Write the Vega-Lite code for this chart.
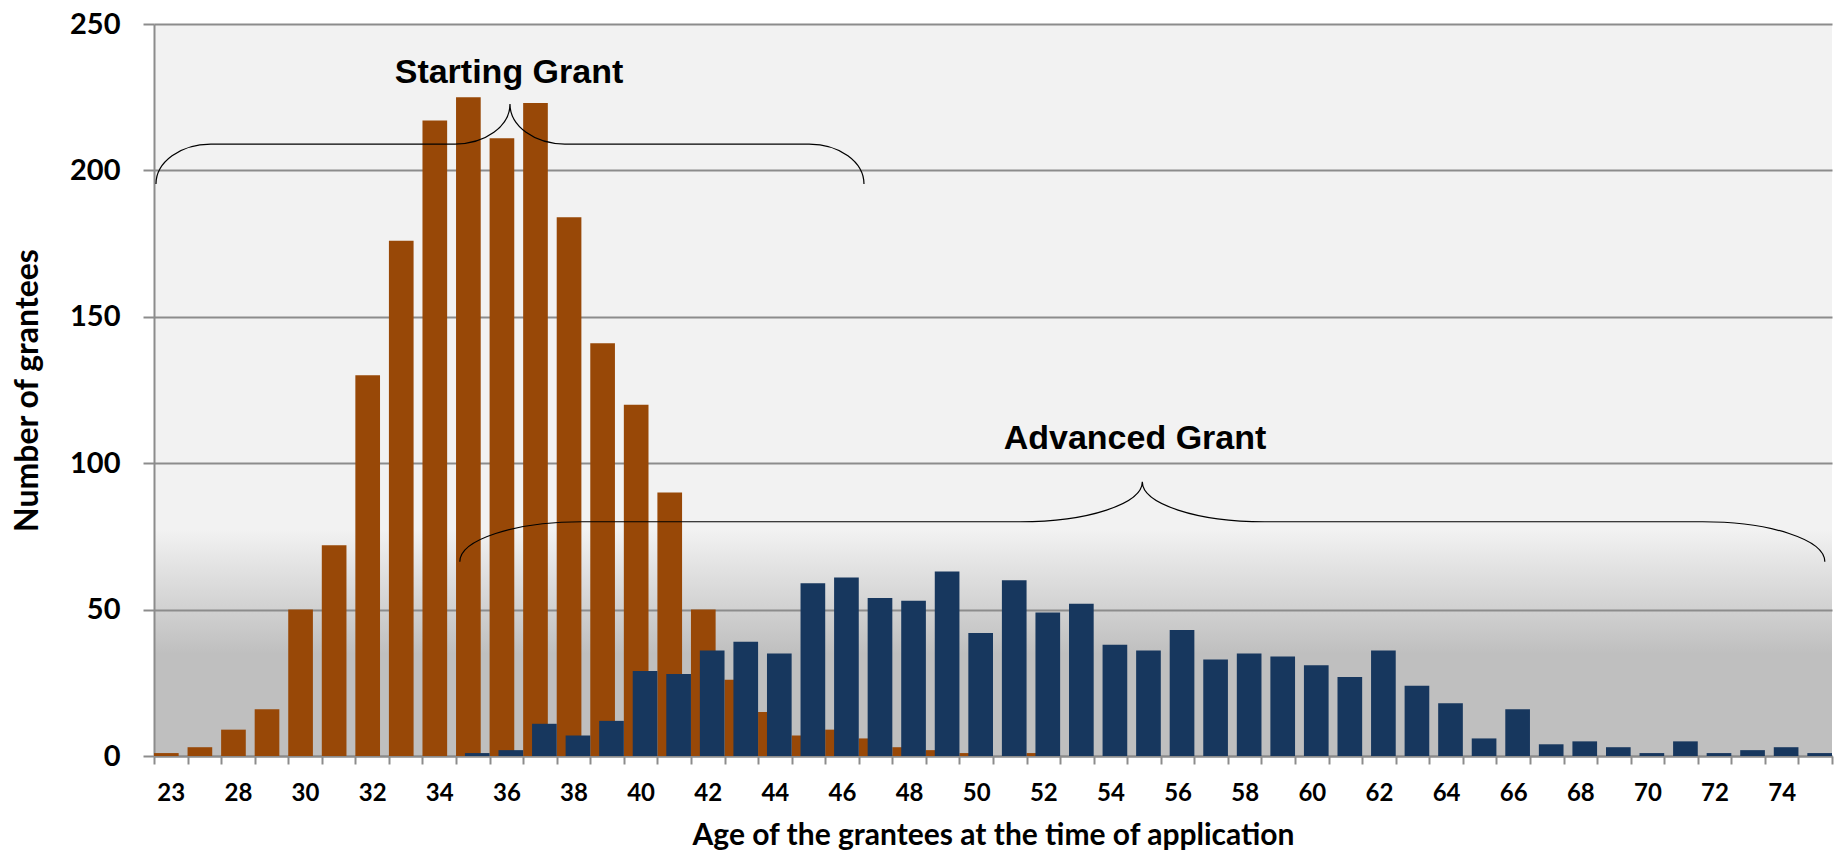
{
  "$schema": "https://vega.github.io/schema/vega-lite/v6.json",
  "width": 1678,
  "height": 732,
  "autosize": {"type": "none"},
  "padding": {"left": 154, "top": 24, "right": 5, "bottom": 103},
  "background": "white",
  "datasets": {
    "grantees": [
      {"age": 23, "grant": "Starting Grant", "count": 1},
      {"age": 27, "grant": "Starting Grant", "count": 3},
      {"age": 28, "grant": "Starting Grant", "count": 9},
      {"age": 29, "grant": "Starting Grant", "count": 16},
      {"age": 30, "grant": "Starting Grant", "count": 50},
      {"age": 31, "grant": "Starting Grant", "count": 72},
      {"age": 32, "grant": "Starting Grant", "count": 130},
      {"age": 33, "grant": "Starting Grant", "count": 176},
      {"age": 34, "grant": "Starting Grant", "count": 217},
      {"age": 35, "grant": "Starting Grant", "count": 225},
      {"age": 36, "grant": "Starting Grant", "count": 211},
      {"age": 37, "grant": "Starting Grant", "count": 223},
      {"age": 38, "grant": "Starting Grant", "count": 184},
      {"age": 39, "grant": "Starting Grant", "count": 141},
      {"age": 40, "grant": "Starting Grant", "count": 120},
      {"age": 41, "grant": "Starting Grant", "count": 90},
      {"age": 42, "grant": "Starting Grant", "count": 50},
      {"age": 43, "grant": "Starting Grant", "count": 26},
      {"age": 44, "grant": "Starting Grant", "count": 15},
      {"age": 45, "grant": "Starting Grant", "count": 7},
      {"age": 46, "grant": "Starting Grant", "count": 9},
      {"age": 47, "grant": "Starting Grant", "count": 6},
      {"age": 48, "grant": "Starting Grant", "count": 3},
      {"age": 49, "grant": "Starting Grant", "count": 2},
      {"age": 50, "grant": "Starting Grant", "count": 1},
      {"age": 52, "grant": "Starting Grant", "count": 1},
      {"age": 35, "grant": "Advanced Grant", "count": 1},
      {"age": 36, "grant": "Advanced Grant", "count": 2},
      {"age": 37, "grant": "Advanced Grant", "count": 11},
      {"age": 38, "grant": "Advanced Grant", "count": 7},
      {"age": 39, "grant": "Advanced Grant", "count": 12},
      {"age": 40, "grant": "Advanced Grant", "count": 29},
      {"age": 41, "grant": "Advanced Grant", "count": 28},
      {"age": 42, "grant": "Advanced Grant", "count": 36},
      {"age": 43, "grant": "Advanced Grant", "count": 39},
      {"age": 44, "grant": "Advanced Grant", "count": 35},
      {"age": 45, "grant": "Advanced Grant", "count": 59},
      {"age": 46, "grant": "Advanced Grant", "count": 61},
      {"age": 47, "grant": "Advanced Grant", "count": 54},
      {"age": 48, "grant": "Advanced Grant", "count": 53},
      {"age": 49, "grant": "Advanced Grant", "count": 63},
      {"age": 50, "grant": "Advanced Grant", "count": 42},
      {"age": 51, "grant": "Advanced Grant", "count": 60},
      {"age": 52, "grant": "Advanced Grant", "count": 49},
      {"age": 53, "grant": "Advanced Grant", "count": 52},
      {"age": 54, "grant": "Advanced Grant", "count": 38},
      {"age": 55, "grant": "Advanced Grant", "count": 36},
      {"age": 56, "grant": "Advanced Grant", "count": 43},
      {"age": 57, "grant": "Advanced Grant", "count": 33},
      {"age": 58, "grant": "Advanced Grant", "count": 35},
      {"age": 59, "grant": "Advanced Grant", "count": 34},
      {"age": 60, "grant": "Advanced Grant", "count": 31},
      {"age": 61, "grant": "Advanced Grant", "count": 27},
      {"age": 62, "grant": "Advanced Grant", "count": 36},
      {"age": 63, "grant": "Advanced Grant", "count": 24},
      {"age": 64, "grant": "Advanced Grant", "count": 18},
      {"age": 65, "grant": "Advanced Grant", "count": 6},
      {"age": 66, "grant": "Advanced Grant", "count": 16},
      {"age": 67, "grant": "Advanced Grant", "count": 4},
      {"age": 68, "grant": "Advanced Grant", "count": 5},
      {"age": 69, "grant": "Advanced Grant", "count": 3},
      {"age": 70, "grant": "Advanced Grant", "count": 1},
      {"age": 71, "grant": "Advanced Grant", "count": 5},
      {"age": 72, "grant": "Advanced Grant", "count": 1},
      {"age": 73, "grant": "Advanced Grant", "count": 2},
      {"age": 74, "grant": "Advanced Grant", "count": 3},
      {"age": 75, "grant": "Advanced Grant", "count": 1}
    ],
    "annotations": [
      {"grant": "Starting Grant", "age": 36, "count": 230, "part": "label"},
      {"grant": "Starting Grant", "age": 36, "count": 209, "part": "brace"},
      {"grant": "Advanced Grant", "age": 55, "count": 105, "part": "label"},
      {"grant": "Advanced Grant", "age": 55, "count": 80, "part": "brace"}
    ]
  },
  "encoding": {
    "x": {
      "field": "age",
      "type": "ordinal",
      "scale": {"type": "band", "paddingInner": 0, "paddingOuter": 0},
      "axis": {
        "title": "Age of the grantees at the time of application",
        "tickBand": "extent",
        "tickSize": 8,
        "labelPadding": 17,
        "labelFontSize": 24,
        "labelAngle": 0,
        "labelOverlap": false,
        "labelExpr": "datum.value == 23 || (datum.value >= 28 && datum.value % 2 == 0) ? datum.label : ''",
        "titleFontSize": 30,
        "titlePadding": 15,
        "grid": false
      }
    },
    "y": {
      "field": "count",
      "type": "quantitative",
      "scale": {"domain": [0, 250], "nice": false},
      "axis": {
        "title": "Number of grantees",
        "values": [0, 50, 100, 150, 200, 250],
        "tickSize": 11,
        "labelPadding": 23,
        "labelFontSize": 29,
        "titleFontSize": 32,
        "titlePadding": 25,
        "grid": true
      }
    }
  },
  "layer": [
    {
      "data": {"name": "grantees"},
      "transform": [{"filter": "datum.grant == 'Starting Grant'"}],
      "mark": {"type": "bar", "color": "#984807", "width": {"band": 0.735}, "xOffset": -4.45}
    },
    {
      "data": {"name": "grantees"},
      "transform": [{"filter": "datum.grant == 'Advanced Grant'"}],
      "mark": {"type": "bar", "color": "#17375e", "width": {"band": 0.735}, "xOffset": 4.45}
    },
    {
      "data": {"name": "annotations"},
      "transform": [{"filter": "datum.grant == 'Starting Grant' && datum.part == 'brace'"}],
      "mark": {
        "type": "point",
        "shape": "M-1,0.113C-1,0.0506 -0.9306,0 -0.845,0L-0.155,0C-0.0694,0 0,-0.0506 0,-0.113C0,-0.0506 0.0694,0 0.155,0L0.845,0C0.9306,0 1,0.0506 1,0.113",
        "size": 501264,
        "filled": false,
        "stroke": "#000000",
        "strokeWidth": 1.2,
        "opacity": 1,
        "xOffset": 3.6
      }
    },
    {
      "data": {"name": "annotations"},
      "transform": [{"filter": "datum.grant == 'Advanced Grant' && datum.part == 'brace'"}],
      "mark": {
        "type": "point",
        "shape": "M-1,0.0586C-1,0.0262 -0.9199,0 -0.821,0L-0.179,0C-0.0801,0 0,-0.0262 0,-0.0586C0,-0.0262 0.0801,0 0.179,0L0.821,0C0.9199,0 1,0.0262 1,0.0586",
        "size": 1863225,
        "filled": false,
        "stroke": "#000000",
        "strokeWidth": 1.2,
        "opacity": 1,
        "xOffset": -1.7
      }
    },
    {
      "data": {"name": "annotations"},
      "transform": [{"filter": "datum.grant == 'Starting Grant' && datum.part == 'label'"}],
      "mark": {"type": "text", "font": "Liberation Sans", "fontWeight": "bold", "fontSize": 34, "baseline": "alphabetic", "align": "center", "dx": 2.6, "color": "#000000"},
      "encoding": {"text": {"field": "grant"}}
    },
    {
      "data": {"name": "annotations"},
      "transform": [{"filter": "datum.grant == 'Advanced Grant' && datum.part == 'label'"}],
      "mark": {"type": "text", "font": "Liberation Sans", "fontWeight": "bold", "fontSize": 34, "baseline": "alphabetic", "align": "center", "dx": -9, "color": "#000000"},
      "encoding": {"text": {"field": "grant"}}
    }
  ],
  "config": {
    "view": {
      "stroke": null,
      "fill": {
        "gradient": "linear",
        "x1": 0, "y1": 0, "x2": 0, "y2": 1,
        "stops": [
          {"offset": 0, "color": "#f2f2f2"},
          {"offset": 0.69, "color": "#f2f2f2"},
          {"offset": 0.86, "color": "#bfbfbf"},
          {"offset": 1, "color": "#bfbfbf"}
        ]
      }
    },
    "axis": {
      "labelFont": "Lato",
      "labelFontWeight": "bold",
      "labelColor": "#000000",
      "titleFont": "Lato",
      "titleFontWeight": "bold",
      "titleColor": "#000000",
      "domainColor": "#8c8c8c",
      "domainWidth": 2,
      "tickColor": "#8c8c8c",
      "tickWidth": 2,
      "gridColor": "#8c8c8c",
      "gridWidth": 2
    }
  }
}
